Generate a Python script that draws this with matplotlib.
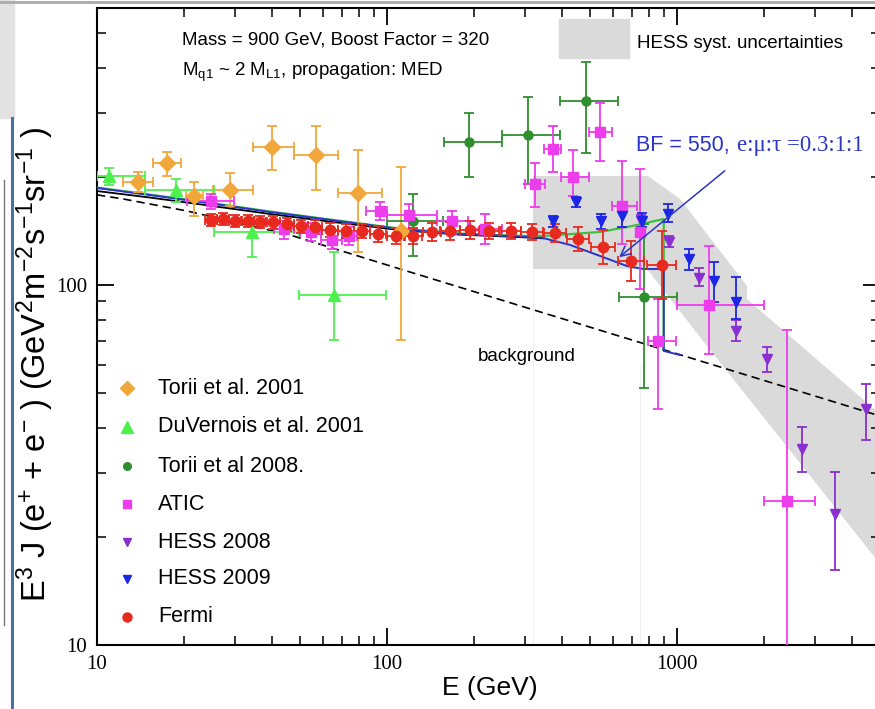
import numpy as np
import matplotlib.pyplot as plt
from matplotlib.ticker import FuncFormatter, NullFormatter, LogLocator
from matplotlib.patches import Rectangle

plt.rcParams['font.family'] = ['Liberation Sans', 'DejaVu Sans']
plt.rcParams['mathtext.default'] = 'regular'

# --- data (E in GeV, E^3 J in GeV^2 m^-2 s^-1 sr^-1) ---

# Torii et al. 2001
torii01_E = [13.85, 17.43, 21.6, 28.7, 40.1, 56.9, 79.4, 111.7]
torii01_F = [193.2, 218.2, 176.7, 183.6, 241.7, 229.6, 180.1, 141.0]
torii01_Elo = [12.3, 15.6, 20.2, 25.1, 34.5, 47.8, 67.8, 111.7]
torii01_Ehi = [15.6, 19.5, 23.2, 34.5, 47.8, 67.8, 96.1, 111.7]
torii01_Flo = [181.0, 200.8, 155.5, 165.7, 208.7, 183.6, 123.5, 70.3]
torii01_Fhi = [206.0, 234.0, 193.0, 204.7, 276.5, 276.5, 237.0, 212.7]

# DuVernois et al. 2001
duv_E = [11.0, 18.7, 34.2, 65.7]
duv_F = [200.8, 183.6, 140.4, 93.8]
duv_Elo = [10.0, 14.6, 25.3, 49.7]
duv_Ehi = [14.6, 25.3, 49.7, 99.2]
duv_Flo = [189.6, 170.1, 119.6, 70.3]
duv_Fhi = [211.3, 197.0, 153.5, 123.5]

# Torii et al 2008
t08_E = [122.9, 191.8, 306.4, 485.6, 769.6]
t08_F = [150.6, 249.6, 261.0, 324.4, 92.6]
t08_Elo = [100.0, 157.2, 249.3, 395.0, 631.0]
t08_Ehi = [156.0, 249.3, 395.0, 626.0, 1000.0]
t08_Flo = [120.4, 199.5, 190.8, 232.6, 51.7]
t08_Fhi = [178.9, 300.5, 332.8, 416.4, 147.7]

# ATIC
atic_E = [24.7, 44.1, 54.7, 64.6, 74.0, 94.6, 119.1, 167.5, 217.7, 323.8,
          373.7, 437.9, 542.7, 646.0, 745.5, 859.8, 1289.0, 2395.0]
atic_F = [171.1, 143.0, 140.4, 133.4, 136.8, 160.6, 156.5, 150.6, 143.0, 190.8,
          238.7, 199.5, 266.1, 165.7, 140.4, 69.9, 88.0, 25.1]
atic_Elo = [20.4, 40.8, 50.0, 59.0, 70.0, 84.6, 100.0, 148.7, 190.0, 299.0,
            347.8, 398.0, 497.0, 597.0, 730.0, 794.0, 1000.0, 1995.0]
atic_Ehi = [29.7, 47.8, 59.0, 70.0, 79.0, 100.0, 148.7, 190.0, 250.0, 350.6,
            398.0, 497.0, 597.0, 728.0, 765.0, 992.0, 1995.0, 2991.0]
atic_Flo = [162.6, 134.2, 132.5, 125.9, 129.2, 152.0, 143.0, 138.6, 130.0, 164.7,
            206.0, 176.7, 221.0, 130.0, 97.5, 45.2, 64.3, 5.0]
atic_Fhi = [178.9, 150.6, 148.7, 141.3, 144.9, 169.6, 167.9, 160.6, 157.5, 218.2,
            276.5, 237.1, 320.3, 221.0, 210.0, 91.4, 128.3, 75.0]

# HESS 2008
h08_E = [751.0, 938.5, 1191.0, 1597.0, 2043.0, 2698.0, 3506.0, 4484.0]
h08_F = [150.6, 131.6, 104.6, 74.5, 62.3, 35.0, 23.1, 45.2]
h08_Flo = [144.9, 127.5, 99.4, 69.9, 57.3, 30.2, 16.2, 37.1]
h08_Fhi = [156.5, 136.8, 111.5, 79.9, 67.3, 40.3, 30.2, 53.1]

# HESS 2009
h09_E = [373.7, 448.5, 547.0, 646.0, 757.0, 931.0, 1100.0, 1341.0, 1597.0]
h09_F = [150.6, 170.1, 150.6, 155.5, 150.6, 157.5, 118.1, 102.6, 89.7]
h09_Flo = [144.9, 164.7, 143.0, 144.9, 144.9, 149.6, 110.1, 89.7, 80.4]
h09_Fhi = [155.5, 175.6, 157.5, 162.6, 158.5, 167.9, 125.9, 115.8, 105.2]

# Fermi (errors given as half widths in dex)
fermi_E = [24.7, 27.2, 29.9, 33.2, 36.5, 40.5, 45.2, 50.5, 56.5, 63.6, 72.2, 82.0, 93.1,
           107.4, 122.9, 143.0, 164.9, 193.3, 224.7, 267.6, 316.2, 379.7, 455.7, 555.7,
           694.0, 887.6]
fermi_F = [151.6, 152.5, 150.6, 150.6, 149.6, 149.6, 147.7, 145.8, 144.9, 142.2, 141.3,
           141.3, 138.6, 136.8, 136.8, 140.4, 141.3, 142.2, 141.3, 141.3, 140.4, 139.5,
           134.2, 127.5, 116.6, 113.6]
fermi_dF = [0.017, 0.017, 0.017, 0.017, 0.017, 0.018, 0.018, 0.018, 0.019, 0.019, 0.02,
            0.02, 0.021, 0.022, 0.023, 0.025, 0.025, 0.025, 0.022, 0.022, 0.022, 0.025,
            0.033, 0.047, 0.055, 0.095]
fermi_dE = [0.02, 0.02, 0.02, 0.021, 0.021, 0.022, 0.023, 0.024, 0.025, 0.026, 0.027,
            0.028, 0.029, 0.03, 0.031, 0.032, 0.033, 0.034, 0.035, 0.036, 0.037, 0.038,
            0.039, 0.042, 0.046, 0.05]

# model curves
bg_E = [10, 12.3, 20.4, 46.3, 110.9, 5000]
bg_F = [178.0, 173.4, 160.6, 137.7, 110.8, 43.3]

blue_E = [10, 15.2, 22.7, 39.5, 63.6, 110.9, 178.5, 265.6, 345, 428, 543, 672, 764, 874,
          900, 900, 1024]
blue_F = [186.0, 177.8, 170.1, 159.5, 151.6, 143.0, 138.6, 136.8, 135.1, 129.2, 120.4,
          112.9, 110.8, 110.8, 110.5, 65.6, 63.9]

green_E = [10, 15.2, 22.7, 39.5, 63.6, 110.9, 178.5, 265.6, 345, 543, 700, 900, 900]
green_F = [186.5, 178.3, 170.6, 160.0, 152.0, 143.4, 139.0, 137.2, 136.8, 140.4, 145.8,
           152.5, 66.0]

black_E = [10, 15.2, 22.7, 39.5, 63.6, 110.9, 178.5, 265.6, 345]
black_F = [182.4, 175.0, 167.5, 157.5, 150.0, 142.0, 138.0, 136.2, 134.8]

# HESS systematic band outline
band_E = [318.7, 794, 1024, 1743, 1743, 5012, 5012, 1269, 788, 318.7]
band_F = [200.8, 200.8, 173.4, 99.4, 91.4, 43.8, 16.8, 67.7, 110.8, 110.8]


def yerr(v, lo, hi):
    v = np.asarray(v)
    return [v - np.asarray(lo), np.asarray(hi) - v]


# --- figure ---
fig = plt.figure(figsize=(8.75, 7.09), dpi=100)

# screenshot remnants around the plot
fig.patches.append(Rectangle((0, 1 - 118 / 709), 14 / 875, 118 / 709,
                             transform=fig.transFigure, color='#e2e2e2', zorder=0))
fig.lines.append(plt.Line2D([12 / 875, 12 / 875], [0, 1 - 118 / 709], transform=fig.transFigure,
                            color='#4b6ea9', lw=2.2))
fig.lines.append(plt.Line2D([4 / 875, 4 / 875], [1 - 625 / 709, 1 - 180 / 709],
                            transform=fig.transFigure, color='#777777', lw=1))
fig.lines.append(plt.Line2D([0, 1], [1 - 2 / 709, 1 - 2 / 709], transform=fig.transFigure,
                            color='#aaaaaa', lw=2))

ax = fig.add_axes([97 / 875, 1 - 645 / 709, 782.7 / 875, 637.5 / 709])
ax.set_xscale('log')
ax.set_yscale('log')
ax.set_xlim(10, 5000)
ax.set_ylim(10, 590)

ax.fill(band_E, band_F, color='#dadada', lw=0, zorder=0)
ax.plot([318.7, 318.7], [10, 110.8], color='#f0f0f0', lw=0.8, zorder=0)
ax.plot([745, 745], [10, 60], color='#f0f0f0', lw=0.8, zorder=0)

ax.plot(bg_E, bg_F, color='black', ls=(0, (5, 3)), lw=1.2, zorder=2)

ek = dict(ls='none', elinewidth=1.3, capsize=3.5, capthick=1.3, zorder=3)
ax.errorbar(torii01_E, torii01_F, yerr=yerr(torii01_F, torii01_Flo, torii01_Fhi),
            xerr=yerr(torii01_E, torii01_Elo, torii01_Ehi), fmt='D', color='#f2a73a',
            ms=8, **ek)
ax.errorbar(duv_E, duv_F, yerr=yerr(duv_F, duv_Flo, duv_Fhi),
            xerr=yerr(duv_E, duv_Elo, duv_Ehi), fmt='^', color='#4ef04e', ms=9, **ek)
ax.errorbar(t08_E, t08_F, yerr=yerr(t08_F, t08_Flo, t08_Fhi),
            xerr=yerr(t08_E, t08_Elo, t08_Ehi), fmt='o', color='#2f8f2f', ms=6.5, **ek)
ax.errorbar(atic_E, atic_F, yerr=yerr(atic_F, atic_Flo, atic_Fhi),
            xerr=yerr(atic_E, atic_Elo, atic_Ehi), fmt='s', color='#ec3cec', ms=7, **ek)
ax.errorbar(h08_E, h08_F, yerr=yerr(h08_F, h08_Flo, h08_Fhi), fmt='v',
            color='#8a2fd0', ms=7, **ek)
ax.errorbar(h09_E, h09_F, yerr=yerr(h09_F, h09_Flo, h09_Fhi), fmt='v',
            color='#1c26e6', ms=7, **ek)

fE = np.asarray(fermi_E)
fF = np.asarray(fermi_F)
fdF = 10 ** np.asarray(fermi_dF)
fdE = 10 ** np.asarray(fermi_dE)
ax.errorbar(fE, fF, yerr=[fF - fF / fdF, fF * fdF - fF], xerr=[fE - fE / fdE, fE * fdE - fE],
            fmt='o', color='#e8291f', ms=7.5, **ek)

ax.plot(black_E, black_F, color='black', lw=1.3, zorder=2.6)
ax.plot(green_E, green_F, color='#3fbf3f', lw=1.6, zorder=2.7)
ax.plot(blue_E, blue_F, color='#2a35c8', lw=1.4, zorder=2.8)

# annotations
ax.annotate('', xy=(621, 118.1), xytext=(1487, 210),
            arrowprops=dict(arrowstyle='->', color='#2a35c8', lw=1.1,
                            mutation_scale=18), zorder=5)
ax.text(722, 243.3, 'BF = 550,', color='#2a35c8', fontsize=15.5, va='center', ha='left')
ax.text(1610, 243.3, 'e:\u03bc:\u03c4 =0.3:1:1', color='#2a35c8', fontsize=16.5,
        va='center', ha='left', family='Liberation Serif')
ax.text(206, 63.5, 'background', fontsize=13.5, va='center', ha='left')

fig.text(182 / 875, 1 - 40 / 709, 'Mass = 900 GeV, Boost Factor = 320', fontsize=13.5,
         va='center', ha='left')
fig.text(182 / 875, 1 - 72 / 709, 'M$_{q1}$ ~ 2 M$_{L1}$, propagation: MED', fontsize=13.5,
         va='center', ha='left')
fig.patches.append(Rectangle((559 / 875, 1 - 58 / 709), 70 / 875, 39 / 709,
                             transform=fig.transFigure, color='#dadada', zorder=3))
fig.text(637 / 875, 1 - 43 / 709, 'HESS syst. uncertainties', fontsize=13.5,
         va='center', ha='left')

# legend drawn by hand
leg_labels = ['Torii et al. 2001', 'DuVernois et al. 2001', 'Torii et al 2008.', 'ATIC',
              'HESS 2008', 'HESS 2009', 'Fermi']
leg_markers = ['D', '^', 'o', 's', 'v', 'v', 'o']
leg_colors = ['#f2a73a', '#4ef04e', '#2f8f2f', '#ec3cec', '#8a2fd0', '#1c26e6', '#e8291f']
leg_sizes = [7, 8, 5.5, 6, 6, 6, 6.5]
leg_y = [388, 427, 466, 504, 542, 579, 617]
for lab, mk, c, s, yp in zip(leg_labels, leg_markers, leg_colors, leg_sizes, leg_y):
    fig.lines.append(plt.Line2D([127 / 875], [1 - yp / 709], marker=mk, color=c, ms=s,
                                ls='none', transform=fig.transFigure))
    fig.text(158 / 875, 1 - yp / 709, lab, fontsize=15.5, va='center', ha='left')

# axes styling
for sp in ax.spines.values():
    sp.set_linewidth(1.5)
ax.tick_params(which='both', direction='in', top=True, right=True)
ax.tick_params(which='major', length=12, width=1.3, labelsize=15, pad=7)
ax.tick_params(which='minor', length=6.5, width=1.1)
ax.xaxis.set_major_locator(LogLocator(base=10))
ax.yaxis.set_major_locator(LogLocator(base=10))
fmt = FuncFormatter(lambda v, _: f'{v:g}')
ax.xaxis.set_major_formatter(fmt)
ax.yaxis.set_major_formatter(fmt)
ax.xaxis.set_minor_formatter(NullFormatter())
ax.yaxis.set_minor_formatter(NullFormatter())
for lab in ax.get_xticklabels() + ax.get_yticklabels():
    lab.set_family('Liberation Serif')

ax.set_xlabel('E (GeV)', fontsize=19)
ax.xaxis.set_label_coords(0.502, -0.048)
ax.set_ylabel('E$^{3}$ J (e$^{+}$ + e$^{-}$ ) (GeV$^{2}$m$^{-2}$s$^{-1}$sr$^{-1}$ )',
              fontsize=23.5)
ax.yaxis.set_label_coords(-0.053, 0.44)

fig.savefig('out.png', dpi=100)
